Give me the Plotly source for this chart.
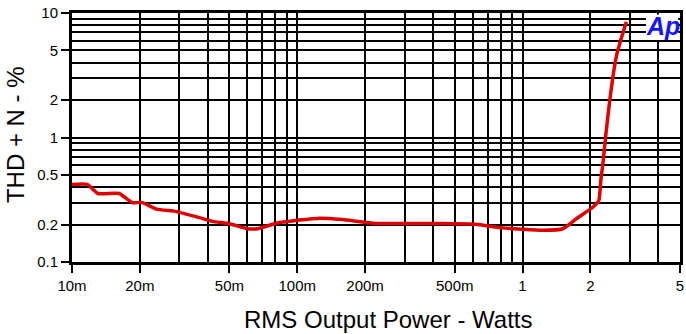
import plotly.graph_objects as go

# Data (RMS output power in W, THD+N in %)
power_w = [0.010, 0.0117, 0.0130, 0.0162, 0.0185, 0.0205, 0.0237, 0.0291, 0.0368,
           0.0420, 0.050, 0.0601, 0.0666, 0.0809, 0.100, 0.126, 0.159, 0.223,
           0.443, 0.620, 0.817, 1.23, 1.51, 1.73, 2.05, 2.18, 2.23, 2.27, 2.35,
           2.44, 2.52, 2.61, 2.74, 2.89]
thd_pct = [0.42, 0.42, 0.355, 0.355, 0.30, 0.30, 0.266, 0.254, 0.227,
           0.212, 0.203, 0.185, 0.185, 0.205, 0.216, 0.225, 0.219, 0.204,
           0.204, 0.201, 0.188, 0.180, 0.185, 0.222, 0.275, 0.31, 0.47, 0.6, 1.11,
           2.0, 3.1, 4.5, 6.2, 8.5]

x_tickvals = [0.01, 0.02, 0.05, 0.1, 0.2, 0.5, 1, 2, 5]
x_ticktext = ["10m", "20m", "50m", "100m", "200m", "500m", "1", "2", "5"]
x_minor = [0.03, 0.04, 0.06, 0.07, 0.08, 0.09, 0.3, 0.4, 0.6, 0.7, 0.8, 0.9, 3, 4]
y_tickvals = [0.1, 0.2, 0.5, 1, 2, 5, 10]
y_ticktext = ["0.1", "0.2", "0.5", "1", "2", "5", "10"]
y_minor = [0.3, 0.4, 0.6, 0.7, 0.8, 0.9, 3, 4, 6, 7, 8, 9]

FONT = "Liberation Sans, Arial, Helvetica, sans-serif"

fig = go.Figure()
fig.add_trace(go.Scatter(
    x=power_w, y=thd_pct, mode="lines",
    line=dict(color="rgb(222,0,0)", width=3.5, shape="spline", smoothing=0.4),
    showlegend=False, hoverinfo="skip",
))

axis_common = dict(
    type="log",
    showline=True, linecolor="black", linewidth=3, mirror=True,
    showgrid=True, gridcolor="black", gridwidth=2,
    ticks="outside", ticklen=8, tickwidth=2, tickcolor="black",
    tickfont=dict(family=FONT, size=15, color="black"),
    zeroline=False, automargin=False,
)

fig.update_xaxes(
    **axis_common,
    range=[-2, 0.69897],
    tickmode="array", tickvals=x_tickvals, ticktext=x_ticktext,
    minor=dict(tickmode="array", tickvals=x_minor, showgrid=True,
               gridcolor="black", gridwidth=2, ticks=""),
)
fig.update_yaxes(
    **axis_common,
    range=[-1, 1],
    tickmode="array", tickvals=y_tickvals, ticktext=y_ticktext,
    minor=dict(tickmode="array", tickvals=y_minor, showgrid=True,
               gridcolor="black", gridwidth=2, ticks=""),
)

fig.update_layout(
    width=686, height=334,
    margin=dict(l=72, r=6, t=13, b=72, pad=0),
    paper_bgcolor="white", plot_bgcolor="white",
    font=dict(family=FONT, color="black"),
    shapes=[dict(type="rect", xref="paper", yref="paper",
                 x0=0.944, x1=0.997, y0=0.892, y1=0.994,
                 fillcolor="white", line=dict(width=0), layer="above")],
    annotations=[
        dict(text="RMS Output Power - Watts", xref="paper", yref="paper",
             x=0.52, y=-0.232, xanchor="center", yanchor="middle",
             showarrow=False, font=dict(family=FONT, size=24, color="black")),
        dict(text="THD + N - %", xref="paper", yref="paper",
             x=-0.094, y=0.513, xanchor="center", yanchor="middle", textangle=-90,
             showarrow=False, font=dict(family=FONT, size=24, color="black")),
        dict(text="<b><i>Ap</i></b>", xref="paper", yref="paper",
             x=0.972, y=0.946, xanchor="center", yanchor="middle",
             showarrow=False, font=dict(family=FONT, size=25, color="rgb(20,20,255)")),
    ],
)

fig.write_html("out.html")
